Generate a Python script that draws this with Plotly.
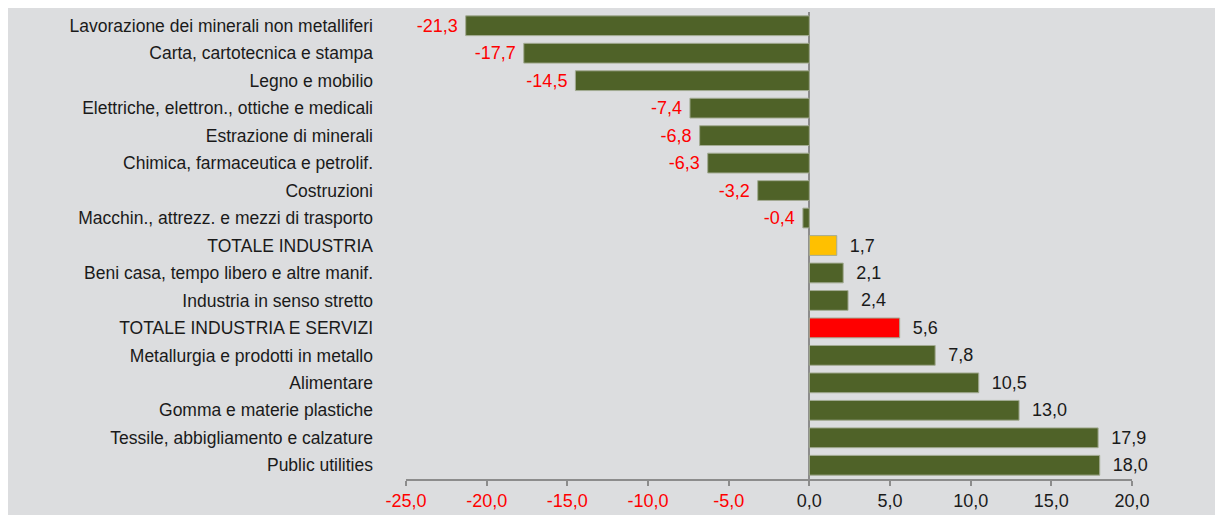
import plotly.graph_objects as go

categories = [
    "Lavorazione dei minerali non metalliferi",
    "Carta, cartotecnica e stampa",
    "Legno e mobilio",
    "Elettriche, elettron., ottiche e medicali",
    "Estrazione di minerali",
    "Chimica, farmaceutica e petrolif.",
    "Costruzioni",
    "Macchin., attrezz. e mezzi di trasporto",
    "TOTALE INDUSTRIA",
    "Beni casa, tempo libero e altre manif.",
    "Industria in senso stretto",
    "TOTALE INDUSTRIA E SERVIZI",
    "Metallurgia e prodotti in metallo",
    "Alimentare",
    "Gomma e materie plastiche",
    "Tessile, abbigliamento e calzature",
    "Public utilities",
]
values = [-21.3, -17.7, -14.5, -7.4, -6.8, -6.3, -3.2, -0.4, 1.7, 2.1, 2.4, 5.6, 7.8, 10.5, 13.0, 17.9, 18.0]
tick_values = [-25, -20, -15, -10, -5, 0, 5, 10, 15, 20]

OLIVE = "#4F6228"
YELLOW = "#FFC000"
RED = "#FF0000"
BG = "#DCDDDF"
FONT = "Liberation Sans, Arial, sans-serif"

def fmt(v):
    return f"{v:.1f}".replace(".", ",")

colors = []
for c in categories:
    if c == "TOTALE INDUSTRIA":
        colors.append(YELLOW)
    elif c == "TOTALE INDUSTRIA E SERVIZI":
        colors.append(RED)
    else:
        colors.append(OLIVE)

texts = [(fmt(v) + " ") if v < 0 else ("  " + fmt(v)) for v in values]
text_colors = [RED if v < 0 else "#1A1A1A" for v in values]

ticktext = [
    (f"<span style='color:{RED}'>{fmt(t)}</span>" if t < 0 else fmt(t))
    for t in tick_values
]

fig = go.Figure(
    go.Bar(
        y=categories,
        x=values,
        orientation="h",
        marker=dict(color=colors, line=dict(color="#A3AB93", width=1)),
        text=texts,
        textposition="outside",
        textfont=dict(color=text_colors, size=18, family=FONT),
        constraintext="none",
        cliponaxis=False,
        hoverinfo="skip",
    )
)

# page body has an 8px margin, so the figure is 8px smaller than the window
W, H = 1215, 507
L, R, T, B = 398, 91, 4, 31
fig.update_layout(
    width=W,
    height=H,
    margin=dict(l=L, r=R, t=T, b=B),
    paper_bgcolor=BG,
    plot_bgcolor=BG,
    bargap=0.28,
    showlegend=False,
    font=dict(family=FONT, size=17.5, color="#1A1A1A"),
    xaxis=dict(
        range=[-25, 20],
        tickvals=tick_values,
        ticktext=ticktext,
        showgrid=False,
        zeroline=True,
        zerolinecolor="#8C8C8C",
        zerolinewidth=1.5,
        showline=True,
        linecolor="#8C8C8C",
        linewidth=1.5,
        ticks="outside",
        ticklen=5,
        tickcolor="#8C8C8C",
        tickwidth=1.5,
        tickfont=dict(size=18, family=FONT),
        fixedrange=True,
    ),
    yaxis=dict(
        categoryorder="array",
        categoryarray=categories[::-1],
        autorange=False,
        range=[-0.5, len(categories) - 0.5],
        showgrid=False,
        showline=False,
        ticks="",
        ticklabelstandoff=32,
        tickfont=dict(size=17.5, family=FONT, color="#1A1A1A"),
        fixedrange=True,
    ),
)

fig.write_html("out.html")
